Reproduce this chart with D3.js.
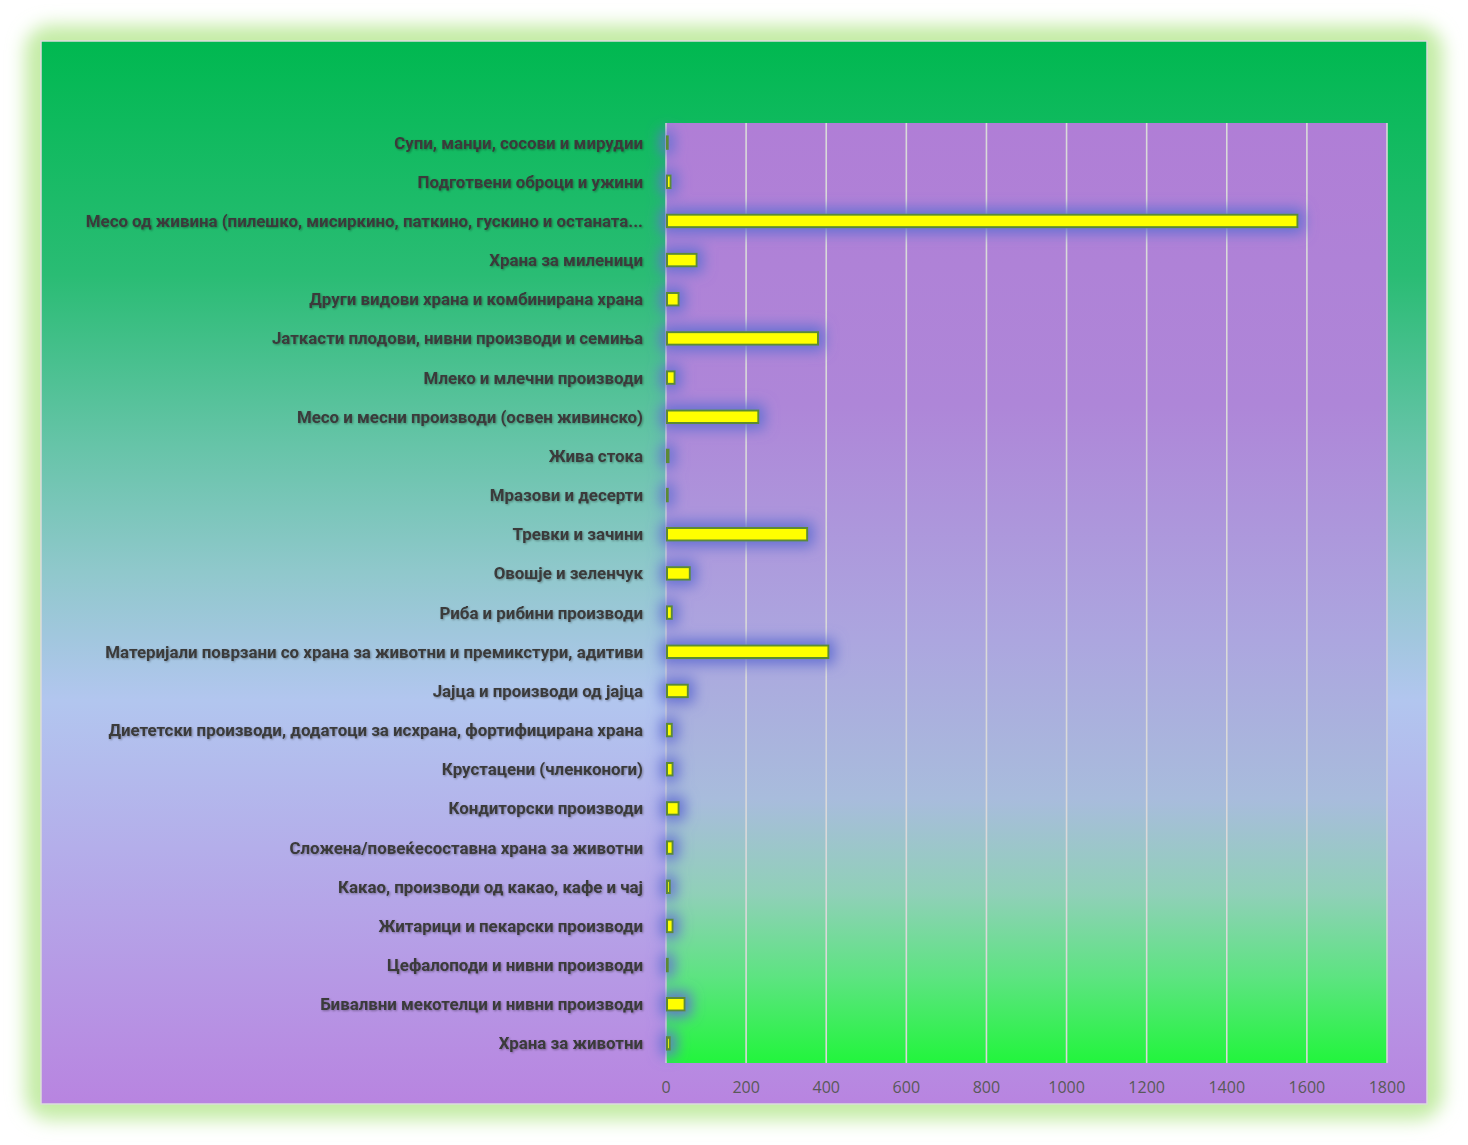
<!DOCTYPE html>
<html>
<head>
<meta charset="utf-8">
<script src="https://cdn.jsdelivr.net/npm/d3@7"></script>
<style>
  html, body { margin: 0; padding: 0; background: #ffffff; }
  svg { display: block; }
</style>
</head>
<body>
<svg id="chart" width="1468" height="1145"></svg>
<script>
const categories = [
  "Супи, манџи, сосови и мирудии",
  "Подготвени оброци и ужини",
  "Месо од живина (пилешко, мисиркино, паткино, гускино и останата...",
  "Храна за миленици",
  "Други видови храна и комбинирана храна",
  "Јаткасти плодови, нивни производи и семиња",
  "Млеко и млечни производи",
  "Месо и месни производи (освен живинско)",
  "Жива стока",
  "Мразови и десерти",
  "Тревки и зачини",
  "Овошје и зеленчук",
  "Риба и рибини производи",
  "Материјали поврзани со храна за животни и премикстури, адитиви",
  "Јајца и производи од јајца",
  "Диететски производи, додатоци за исхрана, фортифицирана храна",
  "Крустацени (членконоги)",
  "Кондиторски производи",
  "Сложена/повеќесоставна храна за животни",
  "Какао, производи од какао, кафе и чај",
  "Житарици и пекарски производи",
  "Цефалоподи и нивни производи",
  "Бивалвни мекотелци и нивни производи",
  "Храна за животни"
];
const values = [2, 9, 1574, 74, 29, 377, 19, 228, 4, 2, 350, 57, 12, 403, 52, 12, 14, 29, 14, 7, 14, 2, 44, 7];
const xTicks = [0, 200, 400, 600, 800, 1000, 1200, 1400, 1600, 1800];

const svg = d3.select("#chart");
const defs = svg.append("defs");

// outer glow
const og = defs.append("filter").attr("id", "outerGlow")
  .attr("x", "-10%").attr("y", "-10%").attr("width", "120%").attr("height", "120%");
og.append("feGaussianBlur").attr("stdDeviation", 9);

// chart area gradient
const ca = defs.append("linearGradient").attr("id", "areaGrad")
  .attr("x1", 0).attr("y1", 0).attr("x2", 0).attr("y2", 1);
[["0%", "#00b850"], ["8%", "#0fba5e"], ["22%", "#2abc74"], ["38%", "#66c4a8"],
 ["50%", "#90c8cc"], ["62%", "#b2c6ef"], ["76%", "#b4aeea"], ["100%", "#b884e0"]]
  .forEach(([o, c]) => ca.append("stop").attr("offset", o).attr("stop-color", c));

// plot area gradient
const pa = defs.append("linearGradient").attr("id", "plotGrad")
  .attr("x1", 0).attr("y1", 0).attr("x2", 0).attr("y2", 1);
[["0%", "#b07ed6"], ["30%", "#ae86d8"], ["55%", "#aca6df"], ["72%", "#a8bcdc"],
 ["82%", "#90d0b8"], ["91%", "#5ce480"], ["100%", "#22f53c"]]
  .forEach(([o, c]) => pa.append("stop").attr("offset", o).attr("stop-color", c));

// bar glow
const bg = defs.append("filter").attr("id", "barGlow")
  .attr("filterUnits", "userSpaceOnUse")
  .attr("x", 600).attr("y", 100).attr("width", 800).attr("height", 1000);
bg.append("feMorphology").attr("in", "SourceAlpha").attr("operator", "dilate").attr("radius", 5).attr("result", "dil");
bg.append("feGaussianBlur").attr("in", "dil").attr("stdDeviation", 7).attr("result", "blur");
bg.append("feFlood").attr("flood-color", "#6470d2").attr("flood-opacity", 1).attr("result", "col");
bg.append("feComposite").attr("in", "col").attr("in2", "blur").attr("operator", "in").attr("result", "glow");
const bm = bg.append("feMerge");
bm.append("feMergeNode").attr("in", "glow");
bm.append("feMergeNode").attr("in", "SourceGraphic");

// text shadow
const ts = defs.append("filter").attr("id", "txtShadow")
  .attr("x", "-5%").attr("y", "-30%").attr("width", "110%").attr("height", "160%");
ts.append("feGaussianBlur").attr("in", "SourceAlpha").attr("stdDeviation", 0.8).attr("result", "b");
ts.append("feOffset").attr("in", "b").attr("dx", 0.5).attr("dy", 0.5).attr("result", "o");
ts.append("feComponentTransfer").attr("in", "o").attr("result", "o2")
  .append("feFuncA").attr("type", "linear").attr("slope", 0.35);
const tm = ts.append("feMerge");
tm.append("feMergeNode").attr("in", "o2");
tm.append("feMergeNode").attr("in", "SourceGraphic");

// layout
const area = { x: 41, y: 41, w: 1386, h: 1063 };
const plot = { left: 666, right: 1387, top: 123, bottom: 1063 };

svg.append("rect")
  .attr("x", area.x - 16).attr("y", area.y - 16)
  .attr("width", area.w + 32).attr("height", area.h + 32)
  .attr("rx", 26).attr("fill", "#c4eca6")
  .attr("filter", "url(#outerGlow)");

svg.append("rect")
  .attr("x", area.x).attr("y", area.y).attr("width", area.w).attr("height", area.h)
  .attr("fill", "url(#areaGrad)")
  .attr("stroke", "#dcdcdc").attr("stroke-width", 1.5);

svg.append("rect")
  .attr("x", plot.left).attr("y", plot.top)
  .attr("width", plot.right - plot.left).attr("height", plot.bottom - plot.top)
  .attr("fill", "url(#plotGrad)");

const x = d3.scaleLinear().domain([0, 1800]).range([plot.left, plot.right]);
const y = d3.scaleBand().domain(categories).range([plot.top, plot.bottom])
  .paddingInner(0.68).paddingOuter(0.34);

// gridlines
svg.append("g").selectAll("line").data(xTicks).join("line")
  .attr("x1", d => x(d)).attr("x2", d => x(d))
  .attr("y1", plot.top).attr("y2", plot.bottom)
  .attr("stroke", "#d9d9d9").attr("stroke-width", 1.6);

// bars
svg.append("g").attr("filter", "url(#barGlow)")
  .selectAll("rect").data(values).join("rect")
  .attr("x", x(0) + 1)
  .attr("y", (d, i) => y(categories[i]))
  .attr("width", d => Math.max(0.5, x(d) - x(0)))
  .attr("height", y.bandwidth())
  .attr("fill", "#ffff00")
  .attr("stroke", "#5b8a34").attr("stroke-width", 2);

// category labels
const labels = svg.append("g").attr("filter", "url(#txtShadow)")
  .selectAll("text").data(categories).join("text")
  .attr("x", 643)
  .attr("y", d => y(d) + y.bandwidth() / 2)
  .attr("dy", "0.36em")
  .attr("text-anchor", "end")
  .attr("font-family", "Roboto, 'Noto Sans', 'DejaVu Sans', sans-serif")
  .attr("font-weight", "bold")
  .attr("font-size", 17)
  .attr("fill", "#3a3a3a")
  .text(d => d);

// fit label width to reference (longest label ~538px)
const longest = labels.filter(d => d.startsWith("Материјали")).node();
if (longest) {
  const w = longest.getComputedTextLength();
  const fs = 17 * 538 / w;
  labels.attr("font-size", Math.min(18, fs));
}

// x axis tick labels
svg.append("g").selectAll("text").data(xTicks).join("text")
  .attr("x", d => x(d))
  .attr("y", 1093)
  .attr("text-anchor", "middle")
  .attr("font-family", "'Open Sans', 'Noto Sans', 'DejaVu Sans', sans-serif")
  .attr("font-size", 16)
  .attr("fill", "#595959")
  .text(d => d);
</script>
</body>
</html>
